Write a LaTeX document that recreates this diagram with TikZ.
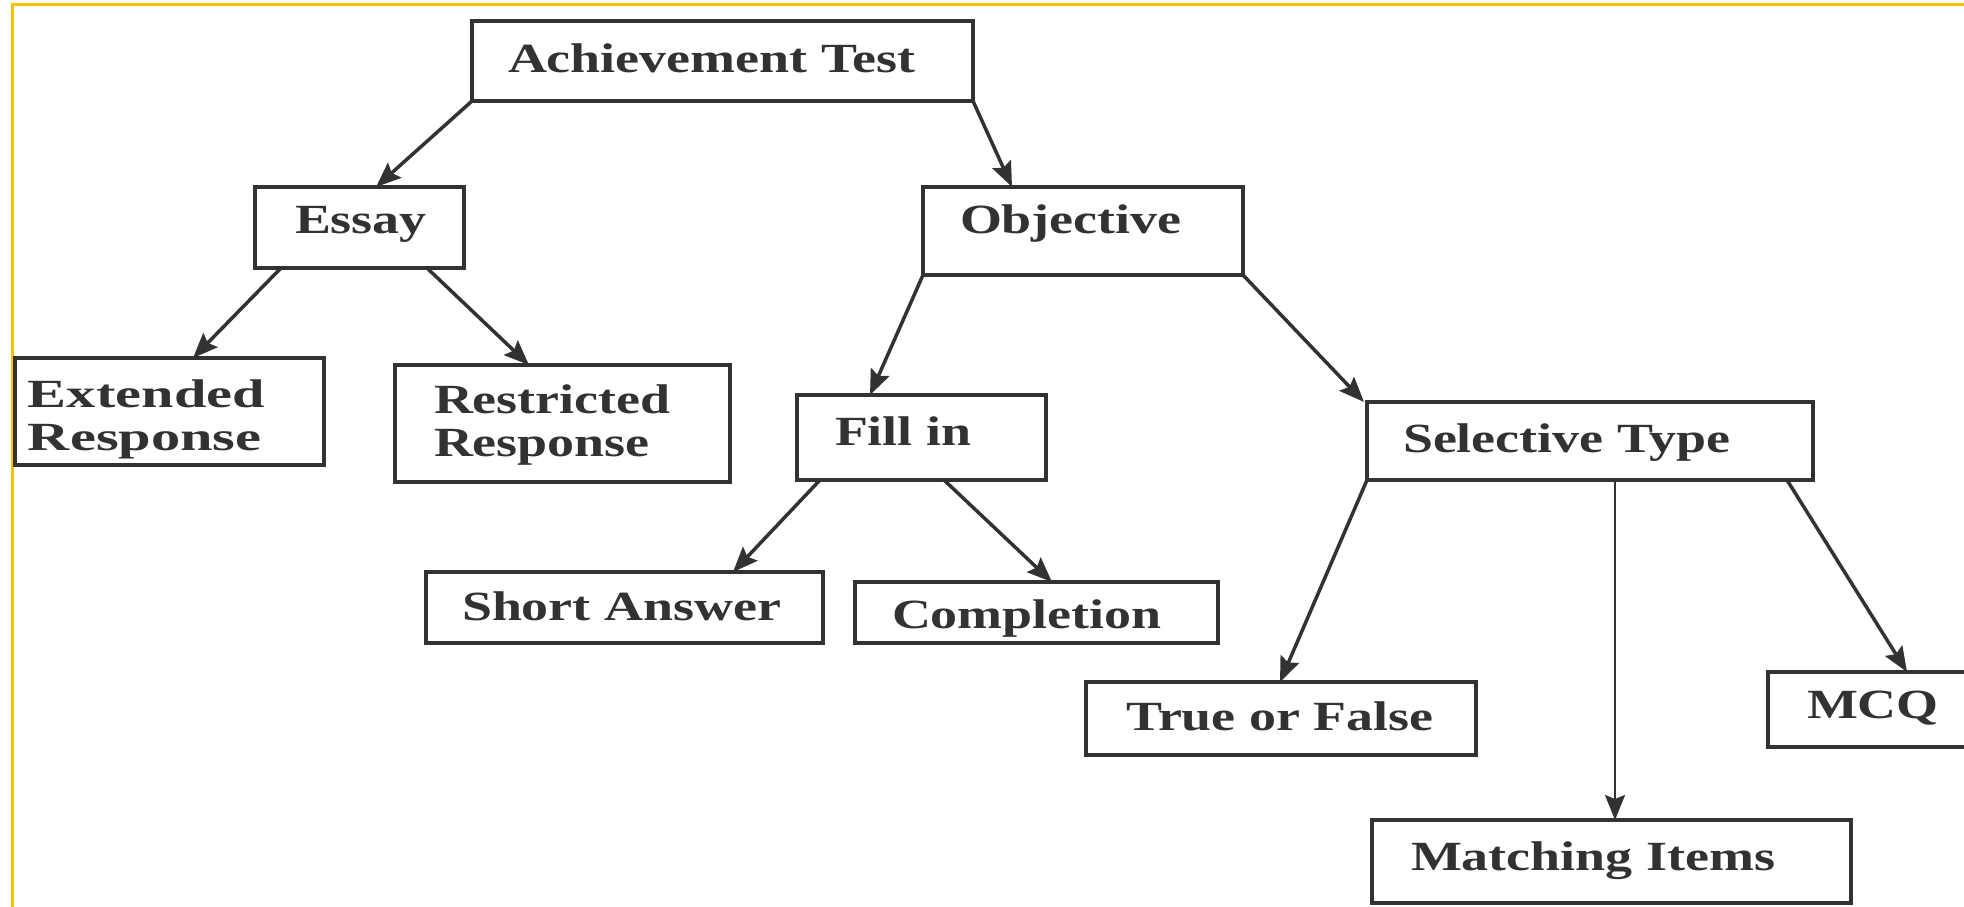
\documentclass[tikz,border=0pt]{standalone}
\usepackage{fontspec}
\usetikzlibrary{arrows.meta}
\newfontfamily\boxfont{Liberation Serif}[FakeStretch=1.30]
\newfontfamily\boxfontw{Liberation Serif}[FakeStretch=1.46]
\definecolor{ink}{RGB}{50,50,50}
\definecolor{framecol}{RGB}{255,192,0}
\newcommand\bxt[3]{\makebox[#1pt][l]{\hspace*{#2pt}#3}}
\newcommand\bxtt[4]{\parbox[t]{#1pt}{\hspace*{#2pt}#3\\\hspace*{#2pt}#4}}
\begin{document}
\begin{tikzpicture}[x=1pt,y=-1pt,
  box/.style={draw=ink, line width=3.5pt, inner sep=0pt, outer sep=0pt,
    anchor=north west, text=ink,
    font=\boxfont\bfseries\fontsize{41.5}{43.5}\selectfont},
  arr/.style={draw=ink, line width=3.5pt,
    -{Stealth[length=25pt,width=20pt,inset=4pt]}},
  framestyle/.style={draw=framecol, line width=3pt}]
\useasboundingbox (0,0) rectangle (1964,907);
\clip (0,0) rectangle (1964,907);
\fill[white] (0,0) rectangle (1964,907);
\draw[framestyle] (12,910) -- (12,5) -- (1970,5);

\node[box, minimum width=501pt, minimum height=80pt, text height=28pt, text depth=6pt] (at) at (472,21) {\bxt{501}{36}{Achievement Test}};
\node[box, minimum width=209pt, minimum height=81pt, text height=28pt, text depth=17pt] (essay) at (255,187) {\bxt{209}{40}{Essay}};
\node[box, minimum width=320pt, minimum height=88pt, text height=28pt, text depth=24pt] (obj) at (923,187) {\bxt{320}{37}{Objective}};
\node[box, font=\boxfontw\bfseries\fontsize{40}{43}\selectfont, minimum width=309pt, minimum height=107pt, text height=28pt, text depth=37pt] (ext) at (15,358) {\bxtt{309}{13}{Extended}{Response}};
\node[box, minimum width=335pt, minimum height=117pt, text height=28pt, text depth=49pt] (restr) at (395,365) {\bxtt{335}{39}{Restricted}{Response}};
\node[box, minimum width=249pt, minimum height=85pt, text height=28pt, text depth=13pt] (fill) at (797,395) {\bxt{249}{38}{Fill in}};
\node[box, minimum width=446pt, minimum height=78pt, text height=28pt, text depth=6pt] (sel) at (1367,402) {\bxt{446}{36}{Selective Type}};
\node[box, minimum width=397pt, minimum height=71pt, text height=28pt, text depth=3pt] (short) at (426,572) {\bxt{397}{36}{Short Answer}};
\node[box, minimum width=363pt, minimum height=61pt, text height=31pt, text depth=0pt] (compl) at (855,582) {\bxt{363}{37}{Completion}};
\node[box, minimum width=390pt, minimum height=73pt, text height=28pt, text depth=5pt] (tf) at (1086,682) {\bxt{390}{40}{True or False}};
\node[box, minimum width=230pt, minimum height=75pt, text height=28pt, text depth=11pt] (mcq) at (1768,672) {\bxt{230}{39}{MCQ}};
\node[box, minimum width=479pt, minimum height=83pt, text height=28pt, text depth=11pt] (match) at (1372,820) {\bxt{479}{39}{Matching Items}};

\draw[arr] (at.south west) -- ([xshift=121pt]essay.north west);
\draw[arr] (at.south east) -- ([xshift=89pt]obj.north west);
\draw[arr] ([xshift=26pt]essay.south west) -- ([xshift=178pt]ext.north west);
\draw[arr] ([xshift=172pt]essay.south west) -- ([xshift=134pt]restr.north west);
\draw[arr] (obj.south west) -- ([xshift=73pt]fill.north west);
\draw[arr] (obj.south east) -- ([xshift=-3pt]sel.north west);
\draw[arr] ([xshift=23pt]fill.south west) -- ([xshift=307pt]short.north west);
\draw[arr] ([xshift=147pt]fill.south west) -- ([xshift=197pt]compl.north west);
\draw[arr] (sel.south west) -- ([xshift=194pt]tf.north west);
\coordinate (selm) at ([xshift=248pt]sel.south west);
\draw[arr, line width=2.5pt] (selm) -- (selm |- match.north);
\draw[arr] ([xshift=-26pt]sel.south east) -- ([xshift=139pt]mcq.north west);
\end{tikzpicture}
\end{document}
